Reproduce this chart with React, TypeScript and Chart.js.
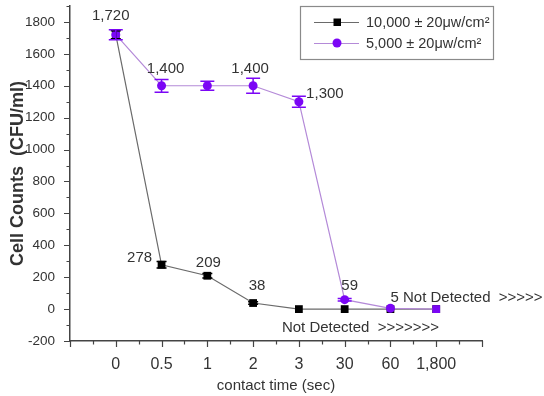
import React, { useEffect, useRef } from "react";
import { Chart, registerables } from "chart.js";

Chart.register(...registerables);

const categories = ["0", "0.5", "1", "2", "3", "30", "60", "1,800"];
const seriesNames = ["10,000 ± 20μw/cm²", "5,000 ± 20μw/cm²"];
const highValues = [1720, 278, 209, 38, 0, 0, 0, 0];
const highErrors = [25, 20, 14, 8, 0, 0, 0, 0];
const lowValues = [1720, 1400, 1400, 1400, 1300, 59, 5, 0];
const lowErrors = [31, 40, 28, 47, 35, 8, 0, 0];
const yTickValues = [-200, 0, 200, 400, 600, 800, 1000, 1200, 1400, 1600, 1800];

// value annotations: text, series (0 = high, 1 = low), category index
const annotTexts = ["1,720", "1,400", "1,400", "1,300", "278", "209", "38", "59", "5 Not Detected  >>>>>", "Not Detected  >>>>>>>"];
const annotSeries = [1, 1, 1, 1, 0, 0, 0, 1, 1, 0];
const annotIndex = [0, 1, 3, 4, 1, 2, 3, 5, 6, 4];

// styling offsets for annotations (pixels)
const annotStyle = [
  { dx: -5, dy: -19, align: "center" },
  { dx: 4, dy: -17, align: "center" },
  { dx: -3, dy: -17, align: "center" },
  { dx: 26, dy: -8, align: "center" },
  { dx: -22, dy: -7, align: "center" },
  { dx: 1, dy: -13, align: "center" },
  { dx: 4, dy: -17, align: "center" },
  { dx: 5, dy: -14, align: "center" },
  { dx: 0, dy: -10, align: "left" },
  { dx: -17, dy: 19, align: "left" },
];

const BLACK_LINE = "#6a6a6a";
const PURPLE_LINE = "#b48ad8";
const PURPLE = "#7b06f5";
const AXIS = "#444444";
const TEXT = "#333333";
const FONT = "'Liberation Sans', Arial, sans-serif";

const xIdx = categories.map((_, i) => i);

const extrasPlugin = {
  id: "extras",
  afterDatasetsDraw(chart: any) {
    const ctx = chart.ctx;
    const x = chart.scales.x;
    const y = chart.scales.y;
    const drawErr = (vals: number[], errs: number[], color: string, cap: number) => {
      ctx.save();
      ctx.strokeStyle = color;
      ctx.lineWidth = 1.5;
      vals.forEach((v, i) => {
        const e = errs[i];
        if (!e) return;
        const px = x.getPixelForValue(i);
        const top = y.getPixelForValue(v + e);
        const bot = y.getPixelForValue(v - e);
        ctx.beginPath();
        ctx.moveTo(px, top);
        ctx.lineTo(px, bot);
        ctx.moveTo(px - cap, top);
        ctx.lineTo(px + cap, top);
        ctx.moveTo(px - cap, bot);
        ctx.lineTo(px + cap, bot);
        ctx.stroke();
      });
      ctx.restore();
    };
    drawErr(highValues, highErrors, "#000000", 5);
    drawErr(lowValues, lowErrors, PURPLE, 7);

    // annotations
    ctx.save();
    ctx.fillStyle = TEXT;
    ctx.font = `15px ${FONT}`;
    ctx.textBaseline = "middle";
    annotTexts.forEach((t, k) => {
      const vals = annotSeries[k] === 0 ? highValues : lowValues;
      const i = annotIndex[k];
      const st = annotStyle[k];
      const px = x.getPixelForValue(i) + st.dx;
      const py = y.getPixelForValue(vals[i]) + st.dy;
      ctx.textAlign = st.align as CanvasTextAlign;
      ctx.fillText(t, px, py);
    });
    ctx.restore();
  },
  afterDraw(chart: any) {
    const ctx = chart.ctx;
    const x = chart.scales.x;
    const y = chart.scales.y;
    const area = chart.chartArea;
    ctx.save();
    ctx.strokeStyle = AXIS;
    ctx.lineWidth = 1.2;
    ctx.beginPath();
    for (let v = x.min; v <= x.max + 1e-9; v += 0.5) {
      const px = Math.round(x.getPixelForValue(v)) + 0.5;
      const len = Number.isInteger(v) ? 6 : 3.5;
      ctx.moveTo(px, area.bottom);
      ctx.lineTo(px, area.bottom + len);
    }
    for (let v = -200; v <= 1900; v += 100) {
      const py = Math.round(y.getPixelForValue(v)) + 0.5;
      const len = v % 200 === 0 ? 6 : 3.5;
      ctx.moveTo(area.left, py);
      ctx.lineTo(area.left - len, py);
    }
    ctx.stroke();
    ctx.restore();

    // legend
    const bx = 300, by = 6, bw = 193, bh = 53;
    ctx.save();
    ctx.strokeStyle = "#8a8a8a";
    ctx.lineWidth = 1.2;
    ctx.strokeRect(bx + 0.5, by + 0.5, bw, bh);
    const rows = [
      { y: 22, line: BLACK_LINE, marker: "#000000", square: true },
      { y: 43, line: PURPLE_LINE, marker: PURPLE, square: false },
    ];
    rows.forEach((r, k) => {
      ctx.strokeStyle = r.line;
      ctx.lineWidth = 1;
      ctx.beginPath();
      ctx.moveTo(314, r.y + 0.5);
      ctx.lineTo(359, r.y + 0.5);
      ctx.stroke();
      ctx.fillStyle = r.marker;
      if (r.square) {
        ctx.fillRect(333.5, r.y - 3.5, 7.5, 7.5);
      } else {
        ctx.beginPath();
        ctx.arc(337, r.y, 4.5, 0, Math.PI * 2);
        ctx.fill();
      }
      ctx.fillStyle = TEXT;
      ctx.font = `14.5px ${FONT}`;
      ctx.textBaseline = "middle";
      ctx.textAlign = "left";
      ctx.fillText(seriesNames[k], 366, r.y + 1);
    });
    ctx.restore();
  },
};

export default function App() {
  const ref = useRef<HTMLCanvasElement | null>(null);
  useEffect(() => {
    if (!ref.current) return;
    const chart = new Chart(ref.current, {
      type: "line",
      data: {
        datasets: [
          {
            label: seriesNames[1],
            data: lowValues.map((v, i) => ({ x: xIdx[i], y: v })),
            borderColor: PURPLE_LINE,
            backgroundColor: PURPLE,
            borderWidth: 1.2,
            pointStyle: lowValues.map((_, i) => (i === lowValues.length - 1 ? "rect" : "circle")),
            pointRadius: lowValues.map((_, i) => (i === lowValues.length - 1 ? 5.5 : 4.5)),
            pointBorderWidth: 0,
            pointBackgroundColor: PURPLE,
            tension: 0,
            order: 0,
          },
          {
            label: seriesNames[0],
            data: highValues.map((v, i) => ({ x: xIdx[i], y: v })),
            borderColor: BLACK_LINE,
            backgroundColor: "#000000",
            borderWidth: 1.2,
            pointStyle: "rect",
            pointRadius: 5.5,
            pointBorderWidth: 0,
            pointBackgroundColor: "#000000",
            tension: 0,
            order: 1,
          },
        ],
      },
      options: {
        animation: false,
        responsive: true,
        maintainAspectRatio: false,
        layout: { padding: { top: 6, right: 62, left: 0, bottom: 0 } },
        plugins: { legend: { display: false }, tooltip: { enabled: false } },
        scales: {
          x: {
            type: "linear",
            min: -1,
            max: 8,
            grid: { display: false },
            border: { display: true, color: AXIS, width: 1.5 },
            ticks: {
              stepSize: 1,
              autoSkip: false,
              maxRotation: 0,
              padding: 6,
              color: TEXT,
              font: { family: FONT, size: 16 },
              callback: (v: any) => {
                const n = Number(v);
                return n >= 0 && n < categories.length ? categories[n] : "";
              },
            },
            title: {
              display: true,
              text: "contact time (sec)",
              color: TEXT,
              font: { family: FONT, size: 15 },
              padding: { top: 1, bottom: 1 },
            },
            afterFit: (s: any) => {
              s.height = 55;
              s.paddingLeft = 0;
              s.paddingRight = 0;
            },
          },
          y: {
            type: "linear",
            min: -200,
            max: 1900,
            grid: { display: false },
            border: { display: true, color: AXIS, width: 1.5 },
            afterBuildTicks: (s: any) => {
              s.ticks = yTickValues.map((v) => ({ value: v }));
            },
            ticks: {
              padding: 7,
              color: TEXT,
              font: { family: FONT, size: 13.5 },
              callback: (v: any) => String(v),
            },
            title: {
              display: true,
              text: "Cell Counts  (CFU/ml)",
              color: TEXT,
              font: { family: FONT, size: 18, weight: "bold" },
              padding: { top: 7, bottom: 7 },
            },
            afterFit: (s: any) => {
              s.width = 70;
              s.paddingTop = 0;
              s.paddingBottom = 0;
            },
          },
        },
      },
      plugins: [extrasPlugin],
    } as any);
    return () => chart.destroy();
  }, []);
  return (
    <div style={{ position: "fixed", left: 0, top: 0, width: 544, height: 396, background: "#ffffff" }}>
      <canvas ref={ref} />
    </div>
  );
}
